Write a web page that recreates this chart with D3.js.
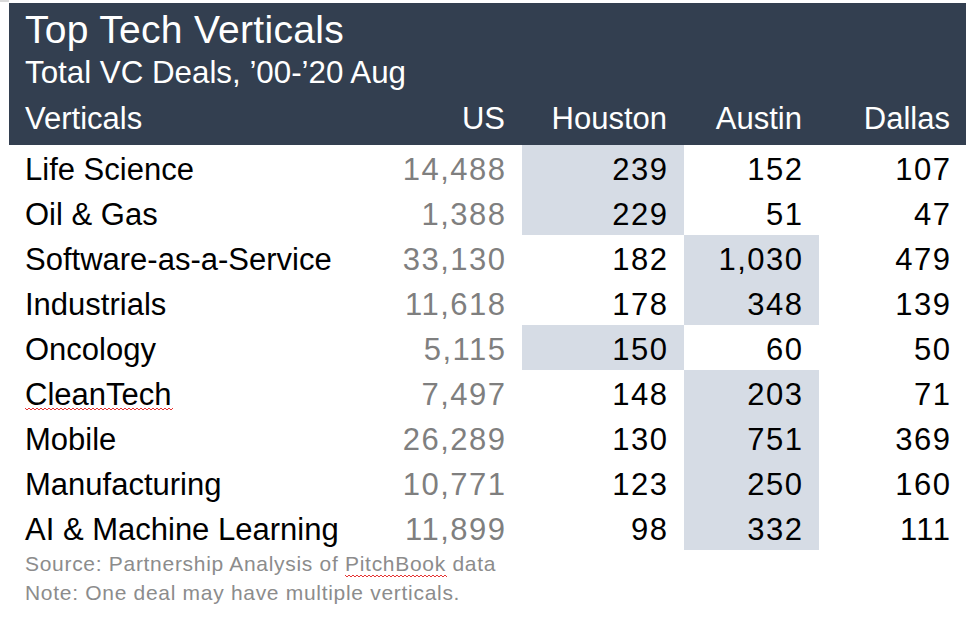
<!DOCTYPE html>
<html><head><meta charset="utf-8">
<script src="https://cdn.jsdelivr.net/npm/d3@7"></script>
<style>html,body{margin:0;padding:0;background:#fff;}svg{display:block;}</style>
</head><body>
<script>
const title = "Top Tech Verticals";
const subtitle = "Total VC Deals, \u201900-\u201920 Aug";
const columns = ["Verticals", "US", "Houston", "Austin", "Dallas"];
const verticals = ["Life Science","Oil & Gas","Software-as-a-Service","Industrials","Oncology","CleanTech","Mobile","Manufacturing","AI & Machine Learning"];
const us =      [14488, 1388, 33130, 11618, 5115, 7497, 26289, 10771, 11899];
const houston = [239, 229, 182, 178, 150, 148, 130, 123, 98];
const austin =  [152, 51, 1030, 348, 60, 203, 751, 250, 332];
const dallas =  [107, 47, 479, 139, 50, 71, 369, 160, 111];
// which city cell is shaded per row
const highlight = ["Houston","Houston","Austin","Austin","Houston","Austin","Austin","Austin","Austin"];
const notes = ["Source: Partnership Analysis of PitchBook data", "Note: One deal may have multiple verticals."];

const W = 969, H = 643;
const font = "'Liberation Sans', Arial, sans-serif";
const svg = d3.select("body").append("svg").attr("width", W).attr("height", H);

const headerTop = 3, headerBottom = 145, rowH = 45;
const y = d3.scaleBand().domain(d3.range(verticals.length))
  .range([headerBottom, headerBottom + rowH * verticals.length]).padding(0);
const colRight = d3.scaleOrdinal().domain(columns.slice(1)).range([505, 667, 802, 950]);
const cellLeft = d3.scaleOrdinal().domain(["Houston","Austin"]).range([522, 684]);
const cellRight = d3.scaleOrdinal().domain(["Houston","Austin"]).range([684, 819]);

// header band
svg.append("rect").attr("x", 9).attr("y", headerTop).attr("width", 957).attr("height", headerBottom - headerTop).attr("fill", "#333f50");
svg.append("rect").attr("x", 0).attr("y", 0).attr("width", 9).attr("height", 2).attr("fill", "#d9d9d9");

svg.append("text").attr("x", 25).attr("y", 43).attr("fill", "#fff")
  .style("font-family", font).style("font-size", "39px").style("letter-spacing", "0.3px").text(title);
svg.append("text").attr("x", 25).attr("y", 83).attr("fill", "#fff")
  .style("font-family", font).style("font-size", "31.3px").text(subtitle);

svg.selectAll("text.colhead").data(columns).join("text").attr("class","colhead")
  .attr("x", d => d === "Verticals" ? 25 : colRight(d))
  .attr("y", 129)
  .attr("text-anchor", d => d === "Verticals" ? "start" : "end")
  .attr("fill", "#fff").style("font-family", font).style("font-size", "31px")
  .text(d => d);

// highlighted cells
svg.selectAll("rect.hl").data(highlight).join("rect").attr("class","hl")
  .attr("x", d => cellLeft(d)).attr("y", (d,i) => y(i))
  .attr("width", d => cellRight(d) - cellLeft(d)).attr("height", y.bandwidth())
  .attr("fill", "#d6dce5");

const fmt = d3.format(",");
const rows = verticals.map((v,i) => ({v, US: us[i], Houston: houston[i], Austin: austin[i], Dallas: dallas[i]}));

svg.selectAll("text.vert").data(rows).join("text").attr("class","vert")
  .attr("x", 25).attr("y", (d,i) => y(i) + 35)
  .attr("fill", "#000").style("font-family", font).style("font-size", "31px")
  .text(d => d.v);

["US","Houston","Austin","Dallas"].forEach(c => {
  svg.selectAll("text.num-" + c).data(rows).join("text").attr("class","num-" + c)
    .attr("x", colRight(c) + 1.5).attr("y", (d,i) => y(i) + 35)
    .attr("text-anchor", "end")
    .attr("fill", c === "US" ? "#7f7f7f" : "#000")
    .style("font-family", font).style("font-size", "31px").style("letter-spacing", "1.5px")
    .text(d => fmt(d[c]));
});

// spell-check squiggles
function squiggle(x0, x1, yy) {
  let p = `M${x0},${yy}`;
  for (let x = x0, k = 0; x < x1; x += 2, k++) p += `L${x+2},${yy + (k % 2 ? 0 : 2)}`;
  svg.append("path").attr("d", p).attr("fill","none").attr("stroke","#e00000").attr("stroke-width",0.8);
}

svg.selectAll("text.note").data(notes).join("text").attr("class","note")
  .attr("x", 25).attr("y", (d,i) => 571 + i * 29)
  .attr("fill", "#8c8c8c").style("font-family", font).style("font-size", "21px").style("letter-spacing", "0.7px")
  .text(d => d);

squiggle(25, 173, 408);
squiggle(345, 446, 575);
</script>
</body></html>
